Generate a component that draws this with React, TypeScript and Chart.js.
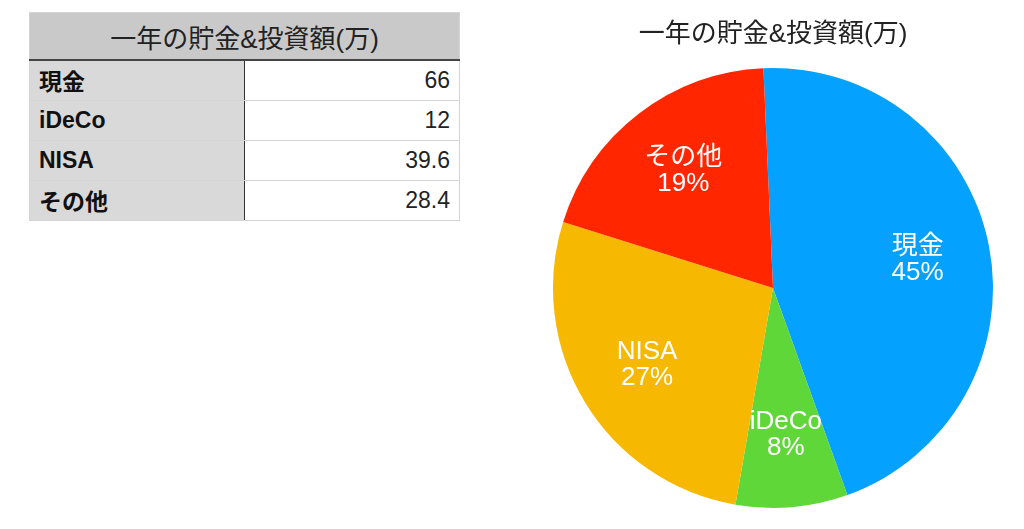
import React, { useEffect, useRef } from "react";
import { Chart, registerables } from "chart.js";

Chart.register(...registerables);

const TITLE = "一年の貯金&投資額(万)";
const categories = ["現金", "iDeCo", "NISA", "その他"];
const values = [66, 12, 39.6, 28.4];
const valueLabels = ["66", "12", "39.6", "28.4"];
const colors = ["#04A1FF", "#60D739", "#F6B800", "#FF2600"];

const FONT = '"Liberation Sans", "Noto Sans CJK JP", sans-serif';

const labelPlugin = {
  id: "sliceLabels",
  afterDatasetsDraw(chart: any) {
    const { ctx } = chart;
    const meta = chart.getDatasetMeta(0);
    const data = chart.data.datasets[0].data as number[];
    const total = data.reduce((a, b) => a + b, 0);
    ctx.save();
    ctx.fillStyle = "#ffffff";
    ctx.font = `26px ${FONT}`;
    ctx.textAlign = "center";
    ctx.textBaseline = "middle";
    meta.data.forEach((arc: any, i: number) => {
      const { x, y, startAngle, endAngle, outerRadius } = arc.getProps(
        ["x", "y", "startAngle", "endAngle", "outerRadius"],
        true
      );
      const mid = (startAngle + endAngle) / 2;
      const r = outerRadius * 0.67;
      const cx = x + Math.cos(mid) * r;
      const cy = y + Math.sin(mid) * r;
      const pct = Math.round((data[i] / total) * 100) + "%";
      ctx.fillText(chart.data.labels[i], cx, cy - 13);
      ctx.fillText(pct, cx, cy + 13);
    });
    ctx.restore();
  },
};

export default function App() {
  const ref = useRef<HTMLCanvasElement>(null);
  useEffect(() => {
    if (!ref.current) return;
    const chart = new Chart(ref.current, {
      type: "pie",
      data: {
        labels: categories,
        datasets: [
          {
            data: values,
            backgroundColor: colors,
            borderWidth: 0,
          },
        ],
      },
      options: {
        animation: false,
        responsive: false,
        rotation: -2.5,
        layout: { padding: { bottom: 21 } },
        plugins: {
          legend: { display: false },
          tooltip: { enabled: false },
          title: {
            display: true,
            text: TITLE,
            color: "#222222",
            font: { family: FONT, size: 26, weight: "normal", lineHeight: 1.0 },
            padding: { top: 22, bottom: 20 },
          },
        },
      },
      plugins: [labelPlugin],
    });
    return () => chart.destroy();
  }, []);

  const cellBase: React.CSSProperties = {
    height: 40,
    padding: "0 9px",
    borderBottom: "1px solid #d4d4d4",
    boxSizing: "border-box",
    color: "#111",
  };

  return (
    <div
      style={{
        position: "fixed",
        left: 0,
        top: 0,
        width: 1024,
        height: 529,
        background: "#fff",
        overflow: "hidden",
      }}
    >
      <table
        style={{
          position: "absolute",
          left: 29,
          top: 12,
          width: 431,
          borderCollapse: "collapse",
          fontFamily: FONT,
          border: "1px solid #d4d4d4",
        }}
      >
        <tbody>
          <tr>
            <td
              colSpan={2}
              style={{
                height: 46,
                background: "#C9C9C9",
                textAlign: "center",
                fontSize: 26,
                color: "#222",
                borderBottom: "2px solid #444",
                padding: 0,
              }}
            >
              {TITLE}
            </td>
          </tr>
          {categories.map((c, i) => (
            <tr key={c}>
              <td
                style={{
                  ...cellBase,
                  width: 215,
                  background: "#D9D9D9",
                  fontWeight: "bold",
                  fontSize: 23,
                  borderRight: "1.5px solid #333",
                }}
              >
                {c}
              </td>
              <td
                style={{
                  ...cellBase,
                  background: "#fff",
                  textAlign: "right",
                  fontSize: 23,
                  color: "#222",
                }}
              >
                {valueLabels[i]}
              </td>
            </tr>
          ))}
        </tbody>
      </table>
      <canvas
        ref={ref}
        width={460}
        height={529}
        style={{ position: "absolute", left: 543, top: 0, width: 460, height: 529 }}
      />
    </div>
  );
}
